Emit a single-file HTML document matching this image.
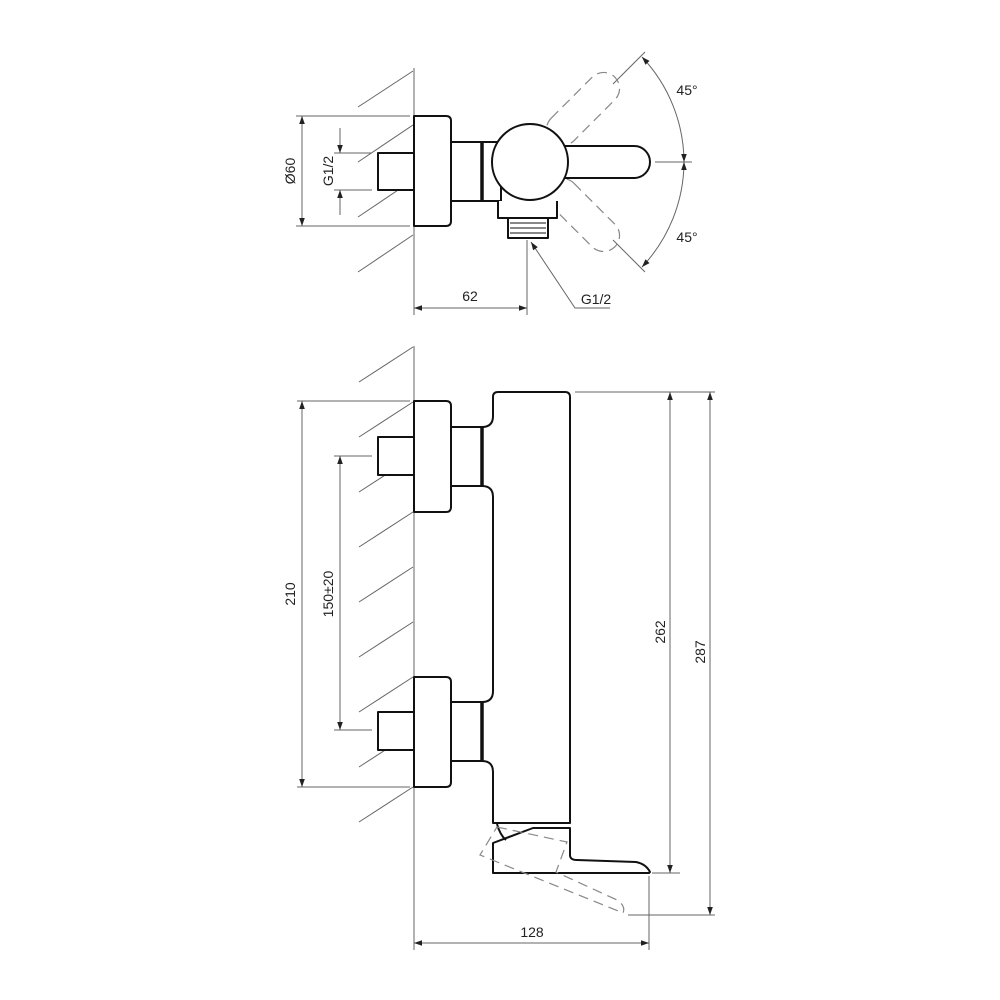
<!DOCTYPE html>
<html><head><style>html,body{margin:0;padding:0;background:#fff}svg{display:block}</style></head>
<body>
<svg width="1000" height="1000" viewBox="0 0 1000 1000" xmlns="http://www.w3.org/2000/svg" font-family="Liberation Sans, sans-serif" font-size="14" fill="none">
<defs>
<marker id="a" viewBox="0 0 10 10" refX="10" refY="5" markerWidth="10" markerHeight="8" orient="auto-start-reverse" markerUnits="userSpaceOnUse"><path d="M0,1.5 L10,5 L0,8.5 Z" fill="#222"/></marker>
</defs>
<g stroke="#666" stroke-width="1">
<line x1="414" y1="68" x2="414" y2="275"/>
<line x1="358" y1="107" x2="413" y2="71"/>
<line x1="358" y1="162" x2="413" y2="125"/>
<line x1="358" y1="217" x2="413" y2="180"/>
<line x1="358" y1="272" x2="413" y2="235"/>
<line x1="296" y1="116" x2="410" y2="116"/>
<line x1="296" y1="226" x2="410" y2="226"/>
<line x1="302" y1="116" x2="302" y2="226" marker-start="url(#a)" marker-end="url(#a)"/>
<line x1="334" y1="153" x2="372" y2="153"/>
<line x1="334" y1="190" x2="372" y2="190"/>
<line x1="340" y1="128" x2="340" y2="153" marker-end="url(#a)"/>
<line x1="340" y1="215" x2="340" y2="190" marker-end="url(#a)"/>
<line x1="414" y1="275" x2="414" y2="315"/>
<line x1="527" y1="240" x2="527" y2="315"/>
<line x1="414" y1="308" x2="527" y2="308" marker-start="url(#a)" marker-end="url(#a)"/>
<polyline points="610,308 575,308 531,242" marker-end="url(#a)"/>
<path d="M642,57 A154,154 0 0 1 684,162" marker-start="url(#a)" marker-end="url(#a)"/>
<path d="M684,162 A154,154 0 0 1 642,267" marker-start="url(#a)" marker-end="url(#a)"/>
<line x1="613" y1="84" x2="645" y2="52"/>
<line x1="613" y1="240" x2="645" y2="272"/>
<line x1="655" y1="162" x2="692" y2="162"/>
</g>
<g stroke="#888" stroke-width="1.2" stroke-dasharray="10,6">
<rect x="560" y="146" width="90" height="32" rx="16" transform="rotate(-45 530 162)"/>
<rect x="560" y="146" width="90" height="32" rx="16" transform="rotate(45 530 162)"/>
</g>
<g stroke="#111" stroke-width="2" fill="#fff" stroke-linejoin="round">
<rect x="378" y="153" width="36" height="37"/>
<path d="M414,116 H446 Q451,116 451,121 V221 Q451,226 446,226 H414 Z"/>
<rect x="451" y="142" width="50" height="59"/>
<path d="M498,201 V218 H557 V201"/>
<path d="M555,146 H634 A16,16 0 0 1 634,178 H555 Z"/>
<circle cx="530" cy="162" r="38"/>
<rect x="508" y="218" width="40" height="20"/>
</g>
<g stroke="#111" stroke-width="1"><line x1="510" y1="223" x2="546" y2="223"/><line x1="510" y1="228" x2="546" y2="228"/><line x1="510" y1="233" x2="546" y2="233"/></g>
<line x1="482" y1="142" x2="482" y2="201" stroke="#111" stroke-width="3.5"/>

<g stroke="#666" stroke-width="1">
<line x1="414" y1="346" x2="414" y2="790"/>
<line x1="359" y1="382" x2="413" y2="347"/>
<line x1="359" y1="437" x2="413" y2="402"/>
<line x1="359" y1="492" x2="413" y2="457"/>
<line x1="359" y1="547" x2="413" y2="512"/>
<line x1="359" y1="602" x2="413" y2="567"/>
<line x1="359" y1="657" x2="413" y2="622"/>
<line x1="359" y1="712" x2="413" y2="677"/>
<line x1="359" y1="767" x2="413" y2="732"/>
<line x1="359" y1="822" x2="413" y2="787"/>
<line x1="297" y1="401" x2="410" y2="401"/>
<line x1="297" y1="787" x2="410" y2="787"/>
<line x1="302" y1="401" x2="302" y2="787" marker-start="url(#a)" marker-end="url(#a)"/>
<line x1="334" y1="456" x2="372" y2="456"/>
<line x1="334" y1="730" x2="372" y2="730"/>
<line x1="340" y1="456" x2="340" y2="730" marker-start="url(#a)" marker-end="url(#a)"/>
<line x1="575" y1="392" x2="715" y2="392"/>
<line x1="652" y1="873" x2="680" y2="873"/>
<line x1="628" y1="915" x2="715" y2="915"/>
<line x1="670" y1="392" x2="670" y2="873" marker-start="url(#a)" marker-end="url(#a)"/>
<line x1="710" y1="392" x2="710" y2="915" marker-start="url(#a)" marker-end="url(#a)"/>
<line x1="414" y1="790" x2="414" y2="950"/>
<line x1="649" y1="876" x2="649" y2="950"/>
<line x1="414" y1="943" x2="649" y2="943" marker-start="url(#a)" marker-end="url(#a)"/>
</g>
<g stroke="#111" stroke-width="2" fill="none" stroke-linejoin="round">
<path d="M482,427 Q493,427 493,416 V397 Q493,392 498,392 H565 Q570,392 570,397 V823 H493 V772 Q493,761 482,761 M482,702 Q493,702 493,691 V497 Q493,486 482,486"/>
</g>
<g stroke="#111" stroke-width="2" fill="#fff" stroke-linejoin="round">
<rect x="378" y="437" width="36" height="38"/>
<path d="M414,401 H446 Q451,401 451,406 V507 Q451,512 446,512 H414 Z"/>
<path d="M451,427 H482 M451,486 H482"/>
<rect x="378" y="712" width="36" height="38"/>
<path d="M414,677 H446 Q451,677 451,682 V782 Q451,787 446,787 H414 Z"/>
<path d="M451,702 H482 M482,761 H451"/>
<path d="M493,843 L533,828 H570 V855 Q570,860 577,860 L636,862 Q646,864 650,872 L649,873 H493 Z"/>
<path d="M497,824 Q500,835 506,840" fill="none"/>
</g>
<line x1="482" y1="427" x2="482" y2="486" stroke="#111" stroke-width="3.5"/>
<line x1="482" y1="702" x2="482" y2="761" stroke="#111" stroke-width="3.5"/>
<path d="M497,827 L567,842 L556,872 L617,900 Q626,906 623,913 L480,855 Z" stroke="#888" stroke-width="1.2" stroke-dasharray="10,6"/>

<g fill="#222" stroke="none">
<text x="687" y="95" text-anchor="middle">45°</text>
<text x="687" y="242" text-anchor="middle">45°</text>
<text x="470" y="301" text-anchor="middle">62</text>
<text x="596" y="304" text-anchor="middle">G1/2</text>
<text x="532" y="937" text-anchor="middle">128</text>
<text transform="translate(295,171) rotate(-90)" text-anchor="middle">Ø60</text>
<text transform="translate(333,171) rotate(-90)" text-anchor="middle">G1/2</text>
<text transform="translate(295,594) rotate(-90)" text-anchor="middle">210</text>
<text transform="translate(333,594) rotate(-90)" text-anchor="middle">150±20</text>
<text transform="translate(665,632) rotate(-90)" text-anchor="middle">262</text>
<text transform="translate(705,652) rotate(-90)" text-anchor="middle">287</text>
</g>
</svg>
</body></html>
